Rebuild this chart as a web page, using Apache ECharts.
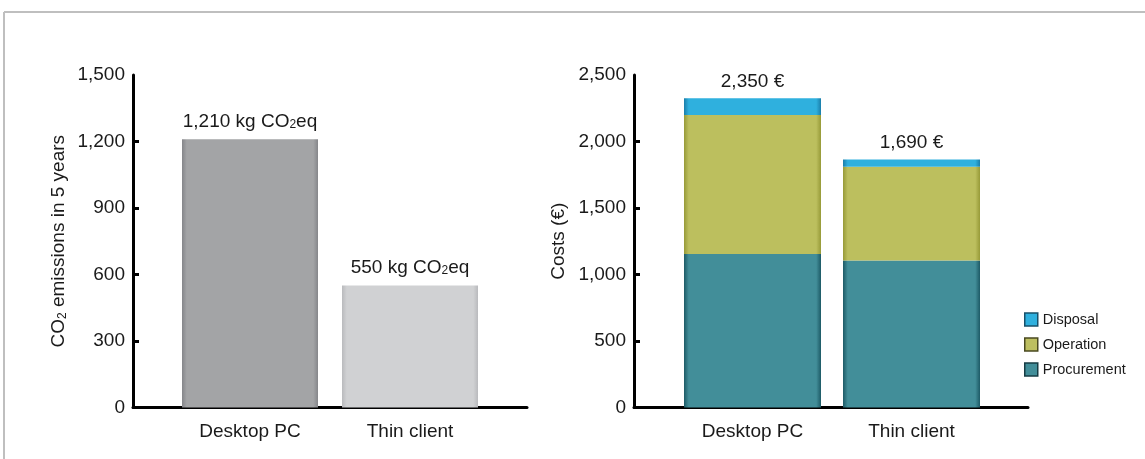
<!DOCTYPE html>
<html>
<head>
<meta charset="utf-8">
<title>CO2 and costs</title>
<script src="https://cdn.jsdelivr.net/npm/echarts@6/dist/echarts.min.js"></script>
<style>
	html,body{margin:0;padding:0;background:#fff;}
	#chart{width:1145px;height:459px;}
</style>
</head>
<body>
<div id="chart"></div>
<script>
// data
let categories = ['Desktop PC','Thin client'];
let co2Values = [1210,550];
let procurement = [1155,1105];
let operation = [1045,705];
let disposal = [125,55];
let costTotals = [2350,1690];   // printed totals (as shown on the chart)
let co2Ticks = [0,300,600,900,1200,1500];
let costTicks = [0,500,1000,1500,2000,2500];

let font = "'Liberation Sans', Arial, sans-serif";
let ink = '#1a1a1a';

let fmt = v => Number(v).toLocaleString('en-US');

// bar fill: darker at the left/right edges
let edged = (base,edge) => new echarts.graphic.LinearGradient(0,0,1,0,[
	{offset:0,color:edge},
	{offset:0.035,color:base},
	{offset:0.965,color:base},
	{offset:1,color:edge}
]);

let grey = [edged('#a3a4a6','#85868a'),edged('#d0d1d3','#b9babd')];

let yAxisBase = (gridIndex,ticks,offset,name,gap) => ({
	type:'value',
	gridIndex,
	min:ticks[0],
	max:ticks[ticks.length-1],
	interval:ticks[1]-ticks[0],
	offset,
	name,
	nameLocation:'middle',
	nameGap:gap,
	nameTextStyle:{
		fontFamily:font,fontSize:19,color:ink,
		rich:{
			a:{fontFamily:font,fontSize:19,color:ink},
			s:{fontFamily:font,fontSize:12,color:ink,verticalAlign:'bottom',padding:[8,0,0,0]}
		}
	},
	axisLine:{show:true,lineStyle:{color:'#000',width:3}},
	axisTick:{show:true,inside:true,length:6,lineStyle:{color:'#000',width:3},customValues:ticks.slice(1,-1)},
	axisLabel:{fontFamily:font,fontSize:19,color:ink,margin:8,formatter:fmt},
	splitLine:{show:false}
});

let catAxis = (gridIndex) => ({
	type:'category',
	gridIndex,
	data:categories,
	axisLine:{show:false},
	axisTick:{show:false},
	axisLabel:{fontFamily:font,fontSize:19,color:ink,margin:15}
});

// plain axes spanning the full width, only for the black base line
let lineXAxis = (gridIndex) => ({
	type:'category',gridIndex,data:categories,
	axisLine:{show:true,lineStyle:{color:'#000',width:3}},
	axisTick:{show:false},axisLabel:{show:false}
});
let hiddenY = (gridIndex) => ({type:'value',gridIndex,min:0,max:1,show:false});

let option = {
	animation:false,
	backgroundColor:'#fff',
	textStyle:{fontFamily:font},
	grid:[
		{left:170,width:320,top:75,bottom:51.5},
		{left:673,width:318,top:75,bottom:51.5},
		{left:133,width:394,top:75,bottom:51.5},
		{left:634,width:394,top:75,bottom:51.5}
	],
	xAxis:[catAxis(0),catAxis(1),lineXAxis(2),lineXAxis(3)],
	yAxis:[
		yAxisBase(0,co2Ticks,37,'{a|CO}{s|2}{a| emissions in 5 years}',64),
		yAxisBase(1,costTicks,39,'Costs (€)',66),
		hiddenY(2),
		hiddenY(3)
	],
	legend:{
		orient:'vertical',
		left:1019,
		top:307,
		itemWidth:13,
		itemHeight:13,
		itemGap:10,
		icon:'rect',
		textStyle:{fontFamily:font,fontSize:14.5,color:ink},
		data:[
			{name:'Disposal',itemStyle:{color:'#2fb0de',borderColor:'#17506a',borderWidth:1.5}},
			{name:'Operation',itemStyle:{color:'#bdbf60',borderColor:'#4a4a20',borderWidth:1.5}},
			{name:'Procurement',itemStyle:{color:'#428e99',borderColor:'#163c44',borderWidth:1.5}}
		]
	},
	graphic:[
		{type:'line',shape:{x1:4,y1:12,x2:1145,y2:12},style:{stroke:'#bfbfbf',lineWidth:2}},
		{type:'line',shape:{x1:4,y1:12,x2:4,y2:459},style:{stroke:'#bfbfbf',lineWidth:2}}
	],
	series:[
		{
			name:'CO2',
			type:'bar',
			xAxisIndex:0,yAxisIndex:0,
			barWidth:136,
			data:co2Values.map((v,i)=>({value:v,itemStyle:{color:grey[i]}})),
			label:{
				show:true,position:'top',distance:8,
				formatter:p=>'{a|'+fmt(p.value)+' kg CO}{s|2}{a|eq}',
				rich:{
					a:{fontFamily:font,fontSize:19,color:ink},
					s:{fontFamily:font,fontSize:12,color:ink,padding:[6,0,0,0]}
				}
			}
		},
		{
			name:'Procurement',
			type:'bar',stack:'cost',
			xAxisIndex:1,yAxisIndex:1,
			barWidth:137,
			itemStyle:{color:edged('#428e99','#1d5a66')},
			data:procurement
		},
		{
			name:'Operation',
			type:'bar',stack:'cost',
			xAxisIndex:1,yAxisIndex:1,
			barWidth:137,
			itemStyle:{color:edged('#bcbf5e','#979a38')},
			data:operation
		},
		{
			name:'Disposal',
			type:'bar',stack:'cost',
			xAxisIndex:1,yAxisIndex:1,
			barWidth:137,
			itemStyle:{color:edged('#2fb0de','#1a7eaa')},
			data:disposal,
			label:{
				show:true,position:'top',distance:7,
				fontFamily:font,fontSize:19,color:ink,
				formatter:p=>fmt(costTotals[p.dataIndex])+' €'
			}
		}
	]
};

let myChart = echarts.init(document.getElementById('chart'),null,{renderer:'canvas'});
myChart.setOption(option);
</script>
</body>
</html>
